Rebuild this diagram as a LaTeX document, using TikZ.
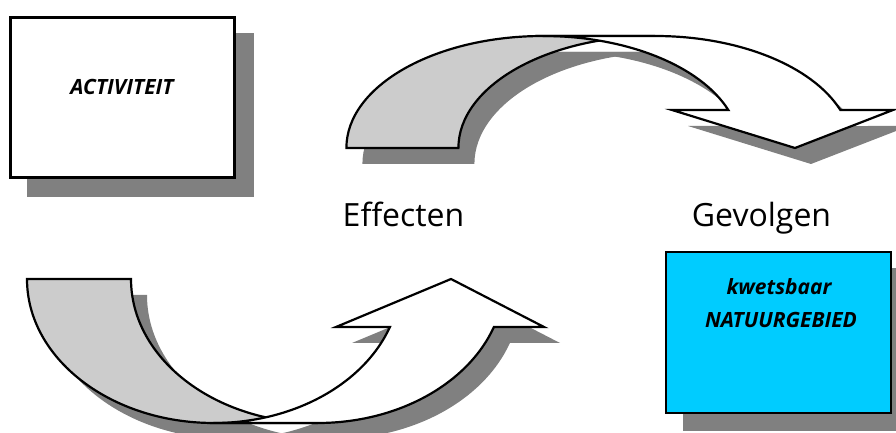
\documentclass[tikz,border=0pt]{standalone}
\usepackage{fontspec}
\setmainfont{Open Sans}
\definecolor{shadowgray}{HTML}{808080}
\definecolor{backgray}{HTML}{CCCCCC}
\definecolor{natcyan}{HTML}{00CCFF}
\tikzset{
  boxshape/.style={draw=black, line width=2.7pt, inner sep=0pt},
  arrowline/.style={draw=black, line width=2.2pt, line join=miter},
  shadowfill/.style={fill=shadowgray, draw=none},
  boxtext/.style={font=\fontsize{21}{25}\selectfont\bfseries\itshape, inner sep=0pt},
  labeltext/.style={font=\fontsize{32}{38}\selectfont, inner sep=0pt, anchor=base}
}
\begin{document}
\begin{tikzpicture}[x=1pt,y=1pt]
\useasboundingbox (0,0) rectangle (896,433);

% ---- ACTIVITEIT box ----
\fill[shadowgray] (27,236) rectangle (254,400);
\node[boxshape, fill=white, minimum width=224pt, minimum height=160pt] (act) at (122.5,335.5) {};
\node[boxtext] (acttext) at (122,346) {ACTIVITEIT};

% ---- top curved arrow (pointing down) ----
\begin{scope}[shift={(16,-16)}]
  \fill[shadowgray] (346.4,285) arc[start angle=180,end angle=90,x radius=196.8,y radius=112]
     -- (655.2,397) arc[start angle=90,end angle=180,x radius=196.8,y radius=112] -- cycle;
  \fill[shadowgray] (543.2,397) -- (655.2,397)
     arc[start angle=90,end angle=19.83,x radius=196.8,y radius=112]
     -- (893,323) -- (795,285) -- (672,323) -- (728.3,323)
     arc[start angle=19.83,end angle=90,x radius=196.8,y radius=112] -- cycle;
\end{scope}
\path[arrowline, fill=backgray] (346.4,285) arc[start angle=180,end angle=90,x radius=196.8,y radius=112]
   -- (655.2,397) arc[start angle=90,end angle=180,x radius=196.8,y radius=112] -- cycle;
\path[arrowline, fill=white] (543.2,397) -- (655.2,397)
   arc[start angle=90,end angle=19.83,x radius=196.8,y radius=112]
   -- (893,323) -- (795,285) -- (672,323) -- (728.3,323)
   arc[start angle=19.83,end angle=90,x radius=196.8,y radius=112] -- cycle;

% ---- bottom curved arrow (pointing up) ----
\begin{scope}[shift={(16,-16)}]
  \fill[shadowgray] (27,154) arc[start angle=180,end angle=270,x radius=186.8,y radius=144]
     -- (317.8,10) arc[start angle=270,end angle=180,x radius=186.8,y radius=144] -- cycle;
  \fill[shadowgray] (213.8,10) -- (317.8,10)
     arc[start angle=270,end angle=340.53,x radius=186.8,y radius=144]
     -- (544,106) -- (451,154) -- (336,106) -- (389.9,106)
     arc[start angle=340.53,end angle=270,x radius=186.8,y radius=144] -- cycle;
\end{scope}
\path[arrowline, fill=backgray] (27,154) arc[start angle=180,end angle=270,x radius=186.8,y radius=144]
   -- (317.8,10) arc[start angle=270,end angle=180,x radius=186.8,y radius=144] -- cycle;
\path[arrowline, fill=white] (213.8,10) -- (317.8,10)
   arc[start angle=270,end angle=340.53,x radius=186.8,y radius=144]
   -- (544,106) -- (451,154) -- (336,106) -- (389.9,106)
   arc[start angle=340.53,end angle=270,x radius=186.8,y radius=144] -- cycle;

% ---- NATUURGEBIED box ----
\fill[shadowgray] (683,2) rectangle (910,165);
\node[boxshape, fill=natcyan, minimum width=225pt, minimum height=161pt] (nat) at (778.5,100.5) {};
\node[boxtext] (nattext1) at (779,146) {kwetsbaar};
\node[boxtext] (nattext2) at (781,113) {NATUURGEBIED};

% ---- labels ----
\node[labeltext] (effecten) at (403.5,206) {Effecten};
\node[labeltext] (gevolgen) at (761.5,206) {Gevolgen};
\end{tikzpicture}
\end{document}
